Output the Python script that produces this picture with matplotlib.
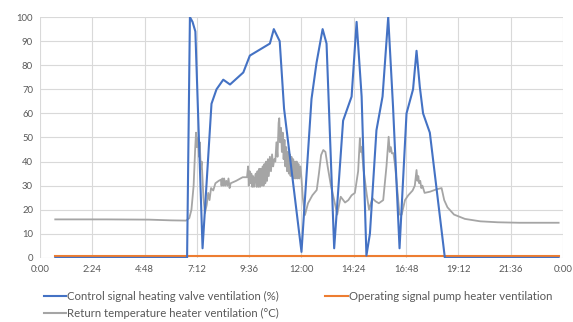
import matplotlib
matplotlib.use("Agg")
import matplotlib.pyplot as plt
from matplotlib.lines import Line2D
import numpy as np

plt.rcParams['font.family'] = ['Lato', 'DejaVu Sans']

# ---- data (time in hours of day) ----
valve_t = [0.7, 6.75, 6.88, 7.0, 7.13, 7.46, 7.87, 8.1, 8.41, 8.72, 9.33, 9.63,
           10.55, 10.73, 11.0, 11.2, 12.0, 12.46, 12.69, 12.97, 13.15, 13.5,
           13.91, 14.3, 14.53, 14.76, 14.98, 15.14, 15.44, 15.72, 15.98, 16.2,
           16.5, 16.82, 17.12, 17.28, 17.43, 17.58, 17.89, 18.58, 23.8]
valve_v = [0, 0, 100, 98, 94, 4, 64, 70, 74, 72, 77, 84,
           89, 95, 90, 62, 2.5, 66, 81, 95, 89, 4,
           57, 67, 98, 67, 1, 10, 53, 67, 100, 63,
           4, 60, 70, 86, 71, 60, 52, 0, 0]

pump_t = [0.7, 23.8]
pump_v = [1, 1]

ret_t = [0.7, 3.0, 5.0, 6.0, 6.7, 6.85, 6.95, 7.05, 7.12, 7.16, 7.2, 7.25, 7.3,
         7.33, 7.38, 7.42, 7.5, 7.57, 7.65, 7.72, 7.78, 7.85, 7.95, 8.05, 8.2,
         8.3, 8.33, 8.37, 8.41, 8.45, 8.5, 8.55, 8.6, 8.65, 8.7, 8.75, 9.0, 9.3,
         9.5, 9.55, 9.58, 9.62, 9.66, 9.7, 9.74, 9.78, 9.82, 9.86, 9.9, 9.94,
         9.98, 10.02, 10.06, 10.1, 10.14, 10.18, 10.22, 10.26, 10.3, 10.34,
         10.38, 10.42, 10.46, 10.5, 10.55, 10.6, 10.65, 10.7, 10.75, 10.8,
         10.85, 10.9, 10.95, 10.98, 11.02, 11.06, 11.1, 11.14, 11.18, 11.22,
         11.26, 11.3, 11.34, 11.38, 11.42, 11.46, 11.5, 11.54, 11.58, 11.62,
         11.66, 11.7, 11.74, 11.78, 11.82, 11.86, 11.9, 11.95, 12.0, 12.06,
         12.16, 12.3, 12.5, 12.7, 12.8, 12.9, 13.0, 13.1, 13.2, 13.35, 13.5,
         13.64, 13.8, 14.0, 14.15, 14.3, 14.45, 14.6, 14.68, 14.72, 14.76,
         14.8, 14.85, 15.0, 15.1, 15.25, 15.4, 15.55, 15.75, 15.9, 16.0, 16.05,
         16.1, 16.15, 16.22, 16.3, 16.38, 16.5, 16.6, 16.75, 16.9, 17.1, 17.2,
         17.28, 17.32, 17.36, 17.4, 17.45, 17.5, 17.55, 17.65, 17.9, 18.2,
         18.43, 18.55, 18.7, 19.0, 19.5, 20.2, 21.0, 22.0, 23.8]
ret_v = [16, 16, 15.9, 15.6, 15.5, 16.5, 20, 30, 45, 52, 46, 50, 42,
         48, 37, 40, 25, 18.6, 22, 27, 24, 29, 28, 31, 32,
         32.5, 30, 33, 30, 33, 30, 32, 30, 33, 29, 31, 32, 33.5,
         33.5, 38, 30, 36, 31, 35, 29.5, 34, 29.5, 33, 35, 29.5,
         36, 29.5, 37, 29.5, 37, 30, 38, 30, 39, 31,
         40, 32, 41, 34, 42, 36, 43, 38, 41, 40,
         48, 42, 56, 58, 48, 54, 44, 52, 41, 49,
         38, 46, 36, 44, 35, 43, 34, 42, 34, 41,
         33, 40, 33, 40, 33, 39, 33, 38, 33, 25,
         17.8, 22.7, 26, 28.2, 35, 42.7, 44.8, 44, 38, 30, 24,
         18, 25.4, 23, 24, 26, 27, 36, 49.7, 44, 46,
         42, 36.5, 26, 20, 24.8, 23.5, 22.7, 24, 38, 50.3, 44,
         46, 43.4, 43.5, 38, 30, 18, 18, 24, 26, 28, 30,
         36.5, 32, 34, 31, 32, 29, 30, 27, 27.5, 28.5,
         29, 24, 21, 18, 16.2, 15.2, 14.8, 14.6, 14.6]

xtick_hours = [0, 2.4, 4.8, 7.2, 9.6, 12.0, 14.4, 16.8, 19.2, 21.6, 24.0]
xtick_labels = ["0:00", "2:24", "4:48", "7:12", "9:36", "12:00", "14:24",
                "16:48", "19:12", "21:36", "0:00"]
ytick_values = list(range(0, 101, 10))

label_valve = "Control signal heating valve ventilation (%)"
label_pump = "Operating signal pump heater ventilation"
label_ret = "Return temperature heater ventilation (°C)"

BLUE = "#4472C4"
ORANGE = "#ED7D31"
GRAY = "#A5A5A5"

fig = plt.figure(figsize=(5.73, 3.22), dpi=100)
ax = fig.add_axes([0.0698, 0.199, 0.9127, 0.748])

ax.plot(pump_t, pump_v, color=ORANGE, lw=1.5, zorder=3)
ax.plot(ret_t, ret_v, color=GRAY, lw=1.3, zorder=2)
ax.plot(valve_t, valve_v, color=BLUE, lw=1.5, zorder=4)

ax.set_xlim(0, 24)
ax.set_ylim(0, 100)
ax.set_xticks(xtick_hours)
ax.set_xticklabels(xtick_labels)
ax.set_yticks(ytick_values)
ax.grid(True, color="#D9D9D9", lw=0.8)
ax.set_axisbelow(True)
for s in ax.spines.values():
    s.set_visible(False)
ax.tick_params(length=0, labelsize=6.8, labelcolor="#595959", pad=5)

handles = [Line2D([], [], color=BLUE, lw=1.5),
           Line2D([], [], color=GRAY, lw=1.5),
           Line2D([], [], color=ORANGE, lw=1.5)]
fig.legend(handles, [label_valve, label_ret, label_pump], ncol=2,
           loc="upper left", bbox_to_anchor=(0.076, 0.096), frameon=False,
           fontsize=8.2, labelcolor="#595959", handlelength=2.0,
           handletextpad=0.1, columnspacing=4.0, labelspacing=0.55,
           borderaxespad=0, borderpad=0)

fig.savefig("out.png", dpi=100)
